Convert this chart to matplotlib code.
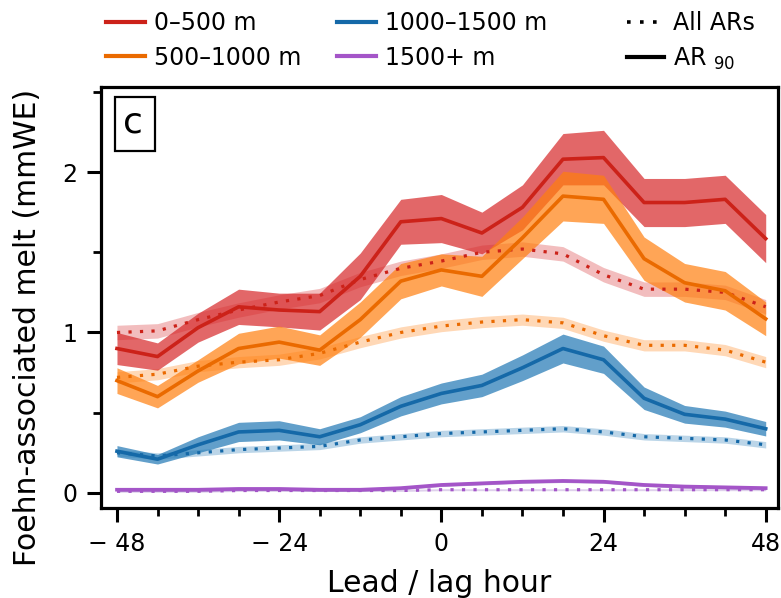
import numpy as np
import matplotlib
matplotlib.use("Agg")
import matplotlib.pyplot as plt
from matplotlib.lines import Line2D
from matplotlib.patches import Rectangle
from matplotlib.ticker import MultipleLocator

plt.rcParams["font.family"] = ["DejaVu Sans"]

# lead / lag hours
hours = [-48, -42, -36, -30, -24, -18, -12, -6, 0, 6, 12, 18, 24, 30, 36, 42, 48]
tick_pos = [-48, -24, 0, 24, 48]
tick_labels = ["\u2212 48", "\u2212 24", "0", "24", "48"]

bands = ["0\u2013500 m", "500\u20131000 m", "1000\u20131500 m", "1500+ m"]

# AR90 composites (solid) and their spread
ar90_0_500 = [0.90, 0.85, 1.03, 1.16, 1.14, 1.13, 1.35, 1.69, 1.71, 1.62, 1.78, 2.08, 2.09, 1.81, 1.81, 1.83, 1.585]
ar90_0_500_err = [0.10, 0.085, 0.09, 0.11, 0.105, 0.115, 0.145, 0.14, 0.15, 0.13, 0.14, 0.16, 0.17, 0.15, 0.15, 0.15, 0.15]
ar90_500_1000 = [0.70, 0.60, 0.76, 0.90, 0.94, 0.89, 1.08, 1.32, 1.39, 1.35, 1.59, 1.85, 1.83, 1.46, 1.31, 1.26, 1.085]
ar90_500_1000_err = [0.08, 0.07, 0.07, 0.095, 0.10, 0.095, 0.11, 0.11, 0.10, 0.125, 0.13, 0.155, 0.15, 0.135, 0.12, 0.12, 0.105]
ar90_1000_1500 = [0.26, 0.21, 0.30, 0.38, 0.39, 0.35, 0.425, 0.54, 0.62, 0.67, 0.78, 0.90, 0.83, 0.59, 0.49, 0.46, 0.40]
ar90_1000_1500_err = [0.035, 0.03, 0.05, 0.06, 0.06, 0.05, 0.05, 0.06, 0.065, 0.07, 0.08, 0.09, 0.085, 0.07, 0.055, 0.05, 0.045]
ar90_1500 = [0.02, 0.02, 0.02, 0.025, 0.025, 0.02, 0.02, 0.03, 0.05, 0.06, 0.07, 0.075, 0.07, 0.05, 0.04, 0.035, 0.03]
ar90_1500_err = [0.01] * 17

# all ARs (dotted) and their spread
all_0_500 = [1.00, 1.01, 1.08, 1.14, 1.19, 1.23, 1.33, 1.40, 1.445, 1.50, 1.52, 1.49, 1.36, 1.27, 1.27, 1.25, 1.16]
all_500_1000 = [0.72, 0.74, 0.79, 0.815, 0.83, 0.87, 0.94, 1.00, 1.04, 1.065, 1.08, 1.06, 0.98, 0.92, 0.92, 0.89, 0.815]
all_1000_1500 = [0.25, 0.23, 0.25, 0.27, 0.28, 0.29, 0.33, 0.35, 0.37, 0.38, 0.39, 0.40, 0.38, 0.35, 0.34, 0.33, 0.30]
all_1500 = [0.01, 0.01, 0.01, 0.015, 0.015, 0.015, 0.015, 0.015, 0.02, 0.02, 0.02, 0.02, 0.02, 0.02, 0.02, 0.02, 0.02]
all_err = [0.045, 0.035, 0.02, 0.006]

ar90 = [ar90_0_500, ar90_500_1000, ar90_1000_1500, ar90_1500]
ar90_err = [ar90_0_500_err, ar90_500_1000_err, ar90_1000_1500_err, ar90_1500_err]
allars = [all_0_500, all_500_1000, all_1000_1500, all_1500]

fill_colors = ["#d62728", "#ff7f0e", "#1f77b4", "#9467bd"]
line_colors = ["#cc2219", "#ea6a00", "#1569a8", "#a455c8"]

fig = plt.figure(figsize=(7.81, 5.98), dpi=100)
ax = fig.add_axes([0.129, 0.1505, 0.867, 0.704])

x = np.array(hours)
dots = (0, (1, 2.6))
for i in range(4):
    m = np.array(allars[i])
    ax.fill_between(x, m - all_err[i], m + all_err[i], color=fill_colors[i], alpha=0.3, lw=0, zorder=1)
for i in range(4):
    m = np.array(ar90[i])
    e = np.array(ar90_err[i])
    ax.fill_between(x, m - e, m + e, color=fill_colors[i], alpha=0.7, lw=0, zorder=2)
for i in range(4):
    ax.plot(x, allars[i], color=line_colors[i], lw=2.3, ls=dots, zorder=3)
    ax.plot(x, ar90[i], color=line_colors[i], lw=2.6, zorder=4)

ax.set_xlim(-50.4, 49.8)
ax.set_ylim(-0.094, 2.53)
ax.set_xticks(tick_pos)
ax.set_xticklabels(tick_labels)
ax.xaxis.set_minor_locator(MultipleLocator(6))
ax.set_yticks([0, 1, 2])
ax.yaxis.set_minor_locator(MultipleLocator(0.5))
ax.tick_params(which="major", length=10, width=2.2, labelsize=17, pad=7)
ax.tick_params(which="minor", length=5.5, width=2.0)
for s in ax.spines.values():
    s.set_linewidth(2.3)

ax.set_xlabel("Lead / lag hour", fontsize=21.5, va="baseline")
ax.xaxis.set_label_coords(0.5, -0.1995)
ax.set_ylabel("Foehn-associated melt (mmWE)", fontsize=21.5, va="center")
ax.yaxis.set_label_coords(-0.108, 0.429)

# panel label
ax.add_patch(Rectangle((0.0207, 0.848), 0.059, 0.128, transform=ax.transAxes,
                       fill=False, ec="black", lw=1.6, zorder=6))
ax.text(0.048, 0.891, "c", transform=ax.transAxes, fontsize=26,
        ha="center", va="baseline", zorder=6)

# legends above the axes
color_handles = [Line2D([], [], color=line_colors[i], lw=3) for i in range(4)]
leg1 = fig.legend(color_handles, bands, ncol=2, frameon=False, fontsize=17,
                  loc="upper left", bbox_to_anchor=(0.109, 1.017),
                  handlelength=1.65, handletextpad=0.38, columnspacing=1.5, labelspacing=0.45)
style_handles = [Line2D([], [], color="black", lw=2.6, ls=dots),
                 Line2D([], [], color="black", lw=3)]
leg2 = fig.legend(style_handles, ["All ARs", "AR $_{90}$"], frameon=False, fontsize=17,
                  loc="upper left", bbox_to_anchor=(0.775, 1.017),
                  handlelength=1.6, handletextpad=0.38, labelspacing=0.45)

fig.savefig("out.png", dpi=100)
